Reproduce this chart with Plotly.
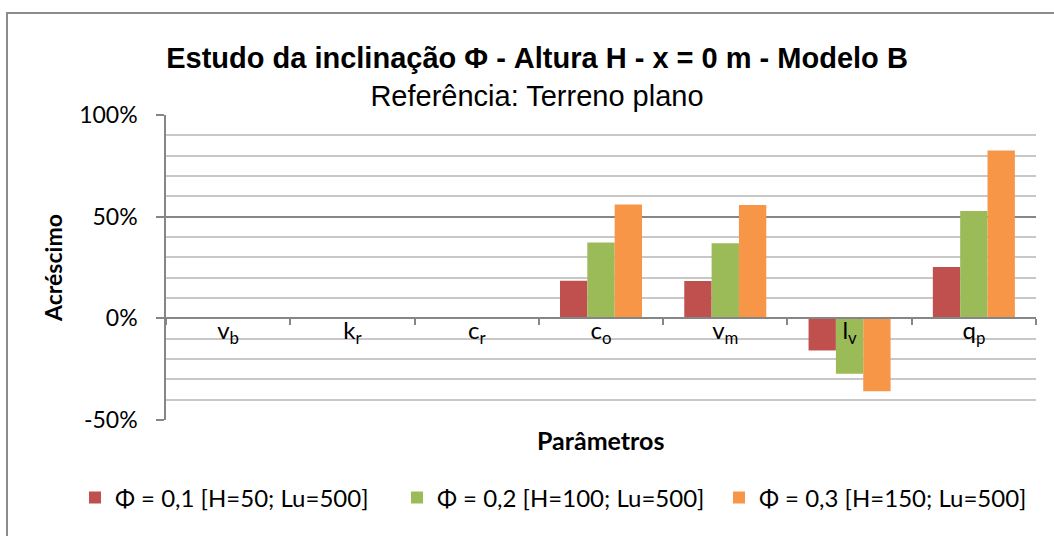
import plotly.graph_objects as go

# categories and series values (percent increase)
parametros = ["v<sub>b</sub>", "k<sub>r</sub>", "c<sub>r</sub>", "c<sub>o</sub>",
              "v<sub>m</sub>", "l<sub>v</sub>", "q<sub>p</sub>"]
phi_01 = [0, 0, 0, 18.5, 18.3, -15.8, 25.3]
phi_02 = [0, 0, 0, 37.3, 36.9, -27.3, 52.8]
phi_03 = [0, 0, 0, 56.0, 55.7, -35.9, 82.5]

nomes = ["Φ = 0,1 [H=50; Lu=500]", "Φ = 0,2 [H=100; Lu=500]", "Φ = 0,3 [H=150; Lu=500]"]
cores = ["#C0504D", "#9BBB59", "#F79646"]

y_ticks = [-50, 0, 50, 100]
y_labels = ["-50%", "0%", "50%", "100%"]

W, H = 1054, 536
L, R, T, B = 166, 1036, 115, 420
pw, ph = R - L, B - T

fig = go.Figure()
for nome, cor, vals in zip(nomes, cores, [phi_01, phi_02, phi_03]):
    fig.add_trace(go.Bar(name=nome, x=parametros, y=vals, marker_color=cor,
                         marker_line_width=0))

ymin, ymax = -50, 100
zero_pos = (0 - ymin) / (ymax - ymin)

fig.update_layout(
    width=W, height=H,
    margin=dict(l=L, r=W - R, t=T, b=H - B),
    paper_bgcolor="white", plot_bgcolor="white",
    barmode="group", bargap=0.34, bargroupgap=0,
    font=dict(family="Lato", size=24, color="black"),
    title=dict(
        text="<b>Estudo da inclinação Φ - Altura H - x = 0 m - Modelo B</b>"
             "<br>Referência: Terreno plano",
        font=dict(family="Liberation Sans", size=29, color="black"),
        x=(537 - L) / pw, xref="paper", xanchor="center", y=1 - 68 / H, yanchor="middle",
    ),
    xaxis=dict(
        type="category", anchor="free", position=zero_pos,
        showline=True, linecolor="#868686", linewidth=1.5,
        ticks="outside", ticklen=6, tickcolor="#868686", tickwidth=1.5,
        tickson="boundaries", showgrid=False, ticklabelstandoff=-9,
        tickfont=dict(family="Lato", size=24, color="black"),
    ),
    yaxis=dict(
        range=[ymin, ymax], domain=[0, 1],
        tickvals=y_ticks, ticktext=y_labels,
        showline=True, linecolor="#868686", linewidth=1.5,
        ticks="outside", ticklen=8, tickcolor="#868686", tickwidth=1.5,
        showgrid=True, gridcolor="#868686", gridwidth=1.5,
        zeroline=False, ticklabelstandoff=14,
        minor=dict(dtick=10, showgrid=True, gridcolor="#C8C8C8", gridwidth=1.5),
        tickfont=dict(family="Lato", size=23, color="black"),
        title=dict(text="<b>Acréscimo</b>", font=dict(family="Lato", size=23), standoff=10),
    ),
    legend=dict(orientation="h", x=(75 - L) / pw, xanchor="left",
                y=(B - 498) / ph, yanchor="middle",
                font=dict(family="Lato", size=24), itemwidth=30, tracegroupgap=0,
                entrywidth=277, entrywidthmode="pixels"),
    showlegend=True,
)

fig.add_annotation(text="<b>Parâmetros</b>", xref="paper", yref="paper",
                   x=(600 - L) / pw, y=(B - 440) / ph, yanchor="middle", showarrow=False,
                   font=dict(family="Lato", size=25, color="black"))

# outer chart border
fig.add_shape(type="rect", xref="paper", yref="paper",
              x0=(7 - L) / pw, x1=(1070 - L) / pw,
              y0=(B - 560) / ph, y1=(B - 13) / ph,
              line=dict(color="#8C8C8C", width=2), fillcolor="rgba(0,0,0,0)", layer="below")

fig.write_html("out.html", config={"displayModeBar": False},
               post_script="document.body.style.margin='0';")
